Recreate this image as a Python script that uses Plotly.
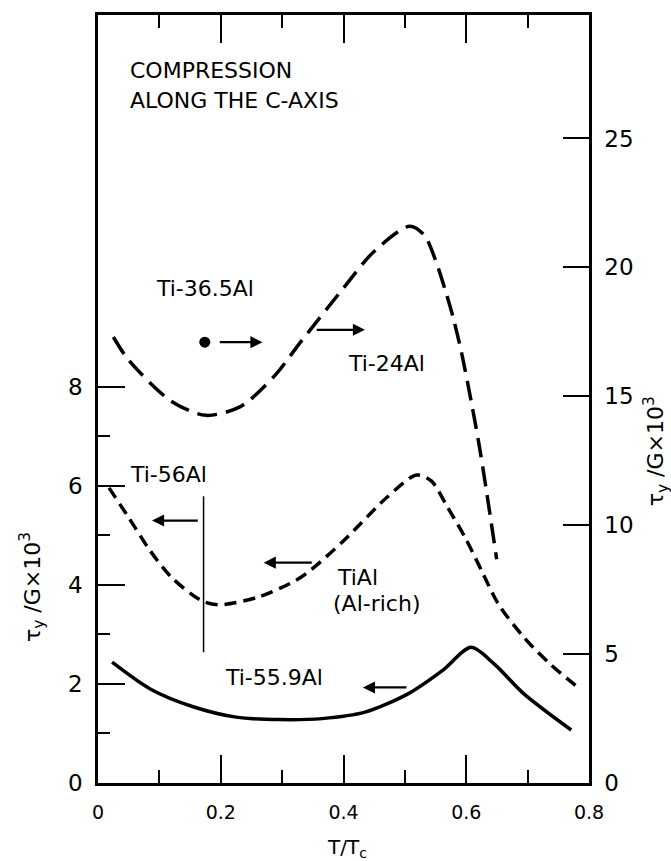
import plotly.graph_objects as go

# ---- data (T/Tc, tau_y/G x 10^3) ----
ti24_T = [0.025, 0.05, 0.12, 0.176, 0.232, 0.288, 0.33, 0.40, 0.449, 0.508, 0.532, 0.549, 0.565, 0.579, 0.592, 0.606, 0.62, 0.633, 0.6495]
ti24_y = [17.3, 16.4, 14.8, 14.26, 14.6, 15.8, 17.1, 19.2, 20.6, 21.6, 21.24, 20.34, 19.18, 18.02, 16.73, 15.06, 13.25, 11.32, 8.68]   # right axis

tial_T = [0.018, 0.05, 0.085, 0.12, 0.169, 0.197, 0.26, 0.33, 0.40, 0.47, 0.519, 0.543, 0.570, 0.598, 0.625, 0.652, 0.694, 0.736, 0.778]
tial_y = [5.96, 5.36, 4.69, 4.15, 3.68, 3.60, 3.75, 4.15, 4.89, 5.76, 6.22, 6.10, 5.56, 4.96, 4.29, 3.62, 2.94, 2.41, 1.97]  # left axis

ti559_T = [0.023, 0.085, 0.155, 0.225, 0.295, 0.365, 0.435, 0.505, 0.561, 0.608, 0.645, 0.694, 0.771]
ti559_y = [2.44, 1.90, 1.54, 1.33, 1.28, 1.30, 1.43, 1.80, 2.27, 2.74, 2.41, 1.80, 1.07]  # left axis

ti365_T = [0.174]
ti365_y = [17.1]  # right axis

ti56_T = [0.172, 0.172]
ti56_y = [2.64, 5.79]  # left axis

x_ticks = [0, 0.2, 0.4, 0.6, 0.8]
x_tick_labels = ["0", "0.2", "0.4", "0.6", "0.8"]
x_minor = [0.1, 0.3, 0.5, 0.7]
yl_ticks = [0, 2, 4, 6, 8]
yl_minor = [1, 3, 5, 7]
yr_ticks = [0, 5, 10, 15, 20, 25]

FONT = "DejaVu Sans"
BLK = "black"

fig = go.Figure()
fig.add_trace(go.Scatter(x=ti24_T, y=ti24_y, yaxis="y2", mode="lines",
                         line=dict(color=BLK, width=3.5, dash="20px,9px", shape="spline", smoothing=0.8)))
fig.add_trace(go.Scatter(x=tial_T, y=tial_y, mode="lines",
                         line=dict(color=BLK, width=3.5, dash="12px,7px", shape="spline", smoothing=0.8)))
fig.add_trace(go.Scatter(x=ti559_T, y=ti559_y, mode="lines",
                         line=dict(color=BLK, width=3.5, shape="spline", smoothing=0.8)))
fig.add_trace(go.Scatter(x=ti365_T, y=ti365_y, yaxis="y2", mode="markers",
                         marker=dict(color=BLK, size=11)))
fig.add_trace(go.Scatter(x=ti56_T, y=ti56_y, mode="lines",
                         line=dict(color=BLK, width=1.5)))

ann = []
def txt(x, y, s, yref="y", xanchor="center", size=22):
    ann.append(dict(x=x, y=y, xref="x", yref=yref, text=s, showarrow=False,
                    xanchor=xanchor, yanchor="middle", font=dict(family=FONT, size=size, color=BLK)))
def arrow(x0, x1, y, yref="y"):
    ann.append(dict(x=x1, y=y, ax=x0, ay=y, xref="x", yref=yref, axref="x", ayref=yref,
                    text="", showarrow=True, arrowhead=2, arrowsize=1.1, arrowwidth=2.2, arrowcolor=BLK))

txt(0.049, 14.38, "COMPRESSION", xanchor="left")
txt(0.049, 13.78, "ALONG THE C-AXIS", xanchor="left")
txt(0.175, 19.17, "Ti-36.5Al", yref="y2")
txt(0.4695, 16.27, "Ti-24Al", yref="y2")
txt(0.1145, 6.24, "Ti-56Al")
txt(0.386, 4.15, "TiAl", xanchor="left")
txt(0.3796, 3.62, "(Al-rich)", xanchor="left")
txt(0.286, 2.14, "Ti-55.9Al")
arrow(0.196, 0.268, 17.1, "y2")
arrow(0.354, 0.435, 17.58, "y2")
arrow(0.165, 0.088, 5.3)
arrow(0.3508, 0.270, 4.45)
arrow(0.505, 0.4315, 1.93)

# axis titles
ann.append(dict(x=-0.134, y=0.2555, xref="paper", yref="paper", showarrow=False, textangle=-90,
                xanchor="center", yanchor="middle",
                text="τ<sub>y</sub> /G×10<sup>3</sup>", font=dict(family=FONT, size=22, color=BLK)))
ann.append(dict(x=1.1365, y=0.432, xref="paper", yref="paper", showarrow=False, textangle=-90,
                xanchor="center", yanchor="middle",
                text="τ<sub>y</sub> /G×10<sup>3</sup>", font=dict(family=FONT, size=22, color=BLK)))
ann.append(dict(x=0.507, y=-0.0843, xref="paper", yref="paper", showarrow=False,
                xanchor="center", yanchor="middle",
                text="T/T<sub>c</sub>", font=dict(family=FONT, size=20, color=BLK)))

fig.update_layout(
    width=671, height=861,
    margin=dict(l=98, r=82, t=12, b=78),
    paper_bgcolor="white", plot_bgcolor="white",
    showlegend=False,
    annotations=ann,
    xaxis=dict(range=[0, 0.8], tickvals=x_ticks, ticktext=x_tick_labels,
               ticks="inside", ticklen=28, tickwidth=2, tickcolor=BLK,
               minor=dict(tickvals=x_minor, ticks="inside", ticklen=13, tickwidth=2, tickcolor=BLK),
               showline=True, linewidth=2.5, linecolor=BLK, mirror="ticks",
               showgrid=False, zeroline=False, ticklabelstandoff=10,
               tickfont=dict(family=FONT, size=19, color=BLK)),
    yaxis=dict(range=[0, 15.51], tickvals=yl_ticks,
               ticks="inside", ticklen=27, tickwidth=2, tickcolor=BLK,
               minor=dict(tickvals=yl_minor, ticks="inside", ticklen=12, tickwidth=2, tickcolor=BLK),
               showline=True, linewidth=2.5, linecolor=BLK,
               showgrid=False, zeroline=False, ticklabelstandoff=8,
               tickfont=dict(family=FONT, size=23, color=BLK)),
    yaxis2=dict(range=[0, 29.79], tickvals=yr_ticks, overlaying="y", side="right",
                ticks="inside", ticklen=26, tickwidth=2, tickcolor=BLK,
                showline=True, linewidth=2.5, linecolor=BLK,
                showgrid=False, zeroline=False, ticklabelstandoff=8,
                tickfont=dict(family=FONT, size=23, color=BLK)),
)

fig.write_html("out.html")
